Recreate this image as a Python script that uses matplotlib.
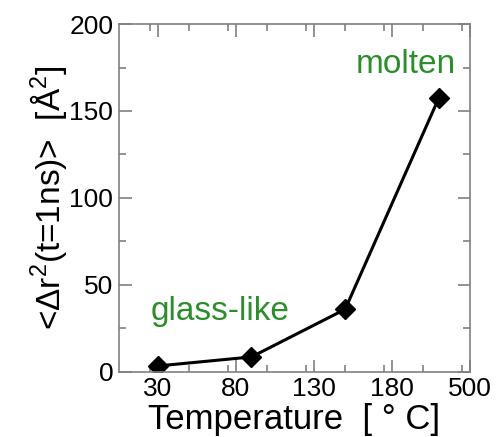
import matplotlib
matplotlib.use("Agg")
import matplotlib.pyplot as plt
from matplotlib.ticker import MultipleLocator

plt.rcParams['font.family'] = ['Liberation Sans', 'DejaVu Sans']
plt.rcParams['mathtext.fontset'] = 'custom'
plt.rcParams['mathtext.rm'] = 'Liberation Sans'
plt.rcParams['mathtext.it'] = 'Liberation Sans'

# x positions on the (broken) temperature axis, last point is the 500 C run
temp_pos = [30, 90, 150, 210]
msd = [3.4, 8.6, 36.0, 157.5]
tick_pos = [30, 80, 130, 180, 230]
tick_labels = ['30', '80', '130', '180', '500']

fig = plt.figure(figsize=(4.99, 4.37), dpi=100)
ax = fig.add_axes([0.238, 0.149, 0.704, 0.796])

ax.plot(temp_pos, msd, color='black', lw=2.2, marker='D', markersize=10)

ax.set_xlim(5, 230)
ax.set_ylim(0, 200)
ax.set_xticks(tick_pos)
ax.set_xticklabels(tick_labels)
ax.xaxis.set_minor_locator(MultipleLocator(25))
ax.yaxis.set_major_locator(MultipleLocator(50))
ax.yaxis.set_minor_locator(MultipleLocator(25))
ax.tick_params(which='both', direction='in', top=True, right=True,
               color='#808080', labelsize=19, pad=4)
ax.tick_params(which='major', length=9, width=1.2)
ax.tick_params(which='minor', length=5, width=1.2)
for s in ax.spines.values():
    s.set_color('#808080')
    s.set_linewidth(1.2)

ax.set_xlabel('Temperature  [ ° C]', fontsize=25, labelpad=1)
ax.set_ylabel('<Δr$^2$(t=1ns)>  [Å$^2$]', fontsize=24, labelpad=0)

ax.text(70, 35, 'glass-like', color='#2e8b2e', fontsize=24, ha='center', va='center')
ax.text(221, 177, 'molten', color='#2e8b2e', fontsize=24, ha='right', va='center')

fig.savefig('out.png', dpi=100)
